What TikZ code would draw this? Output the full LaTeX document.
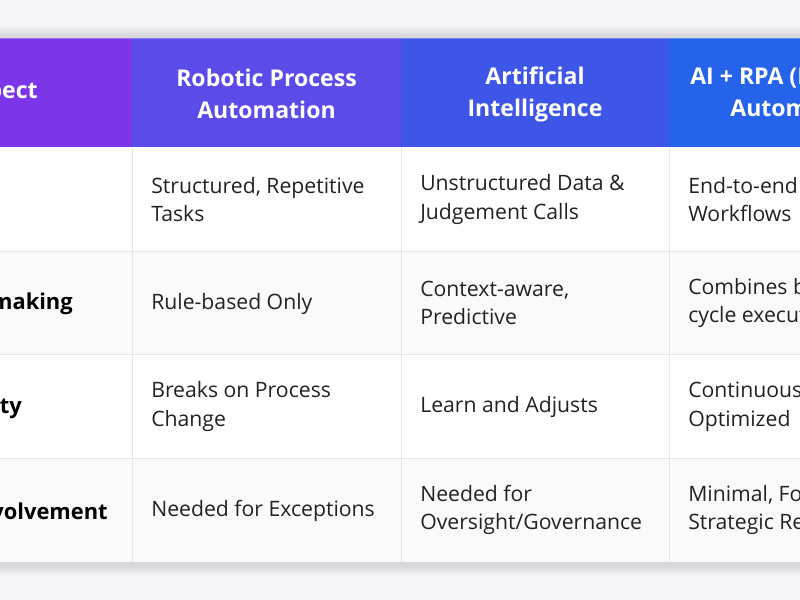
\documentclass[tikz,border=0pt]{standalone}
\usepackage{fontspec}
\setmainfont{Open Sans}
\usepackage{xcolor}
\definecolor{pagebg}{HTML}{F6F5FA}
\definecolor{headA}{HTML}{7B36E9}
\definecolor{headB}{HTML}{5B4BE9}
\definecolor{headC}{HTML}{3E56E8}
\definecolor{headD}{HTML}{2563EB}
\definecolor{rowgray}{HTML}{FAFAFA}
\definecolor{gridline}{HTML}{E6E6EA}
\definecolor{bodytext}{HTML}{222222}

\tikzset{
  headtext/.style={text=white, inner sep=0pt, align=center,
    font=\fontsize{17.3}{24}\selectfont\bfseries},
  celltext/.style={text=bodytext, inner sep=0pt, align=left, anchor=west,
    font=\fontsize{15.9}{21.4}\selectfont},
  rowlabel/.style={text=black, inner sep=0pt, anchor=east,
    font=\fontsize{16.4}{24}\selectfont\bfseries},
}

\begin{document}
\begin{tikzpicture}[x=0.75pt,y=-0.75pt]
      \useasboundingbox (0,0) rectangle (800,600);
      \clip (0,0) rectangle (800,600);
      \fill[pagebg] (0,0) rectangle (800,600);
      % soft shadow
      \foreach \s in {1,...,10}
        \fill[black,opacity=0.011] (-150-\s,36-\s) rectangle (950+\s,566+\s);
      % header
      \fill[headA] (-140,38) rectangle (132,147);
      \fill[headB] (132,38) rectangle (401,147);
      \fill[headC] (401,38) rectangle (669,147);
      \fill[headD] (669,38) rectangle (950,147);
      \draw[white,opacity=0.25] (-140,38.5) -- (950,38.5);
      % rows
      \fill[white] (-140,147) rectangle (950,251);
      \fill[rowgray] (-140,251) rectangle (950,354);
      \fill[white] (-140,354) rectangle (950,458);
      \fill[rowgray] (-140,458) rectangle (950,562);
      \draw[gridline] (-140,251) -- (950,251) (-140,354) -- (950,354)
        (-140,458) -- (950,458);
      \draw[gridline] (132,147) -- (132,562) (401,147) -- (401,562)
        (669,147) -- (669,562);

      \node[headtext,anchor=east] (aspect) at (38,93.5) {Aspect};
      \node[headtext] (rpa) at (266.5,94) {Robotic Process\\Automation};
      \node[headtext] (ai) at (535,94) {Artificial\\Intelligence};
      \node[headtext] (aiRpa) at (803.5,94) {AI + RPA (Intelligent\\Automation)};

      \node[celltext] (rpaTask) at (151,199.5) {Structured, Repetitive\\Tasks};
      \node[celltext] (aiTask) at (420,199.5) {Unstructured Data \&\\Judgement Calls};
      \node[celltext] (bothTask) at (688,199.5) {End-to-end\\Workflows};

      \node[rowlabel] (decision) at (73,304) {Decision-making};
      \node[celltext] (rpaDecision) at (151,303.5) {Rule-based Only};
      \node[celltext] (aiDecision) at (420,303) {Context-aware,\\Predictive};
      \node[celltext] (bothDecision) at (688,303) {Combines both\\cycle execution};

      \node[rowlabel] (adapt) at (22,407.5) {Adaptability};
      \node[celltext] (rpaAdapt) at (151,406.5) {Breaks on Process\\Change};
      \node[celltext] (aiAdapt) at (420,407) {Learn and Adjusts};
      \node[celltext] (bothAdapt) at (688,406.5) {Continuously\\Optimized};

      \node[rowlabel] (human) at (108,511) {Human Involvement};
      \node[celltext] (rpaHuman) at (151,510.5) {Needed for Exceptions};
      \node[celltext] (aiHuman) at (420,510) {Needed for\\Oversight/Governance};
      \node[celltext] (bothHuman) at (688,510) {Minimal, Focus\\Strategic Review};
  \end{tikzpicture}
\end{document}
